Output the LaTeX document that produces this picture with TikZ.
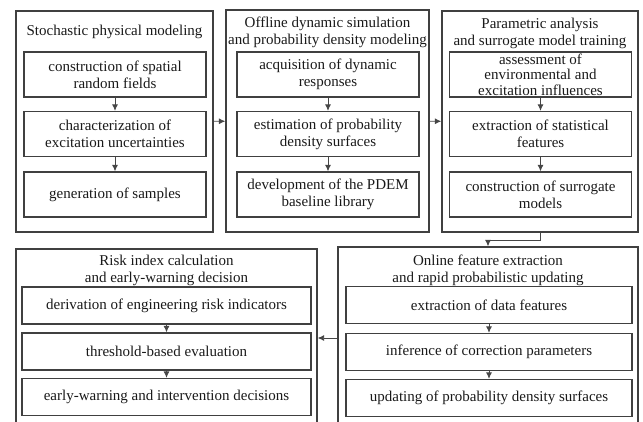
\documentclass[tikz,border=0pt]{standalone}
\usepackage{fontspec}
\setmainfont{Liberation Serif}
\usepackage{xcolor}
\usetikzlibrary{positioning,arrows.meta}
\definecolor{bline}{RGB}{64,64,64}
\definecolor{tblack}{RGB}{25,25,25}
\definecolor{cgray}{RGB}{70,70,70}
\tikzset{
  panel/.style={draw=bline, line width=1.3pt, inner sep=0pt},
  task/.style={draw=bline, line width=1.3pt, align=center, inner sep=0pt, text=tblack, font=\fontsize{15}{17}\selectfont},
  ttl/.style={align=center, inner sep=0pt, text=tblack, font=\fontsize{15}{17}\selectfont},
  flow/.style={-{Latex[length=6.5pt,width=6pt]}, cgray, line width=0.9pt},
  topbox/.style={task, minimum width=182pt, minimum height=45pt},
  lowbox/.style={task, minimum height=37pt}
}

\begin{document}
\begin{tikzpicture}[x=1pt,y=-1pt]
  \clip (0,0) rectangle (643,421);
  % panels
  \node[panel, minimum width=197pt, minimum height=221pt] (p1) at (114.5,121.5) {};
  \node[panel, minimum width=203pt, minimum height=222pt] (p2) at (327.5,121) {};
  \node[panel, minimum width=196pt, minimum height=221pt] (p3) at (540,121.5) {};
  \node[panel, minimum width=301pt, minimum height=178pt] (p4) at (166.5,338) {};
  \node[panel, minimum width=300pt, minimum height=182pt] (p5) at (488,338) {};

  % stochastic physical modeling
  \node[ttl] (t1) at (114.5,32) {Stochastic physical modeling};
  \node[topbox] (a1) at (115,74.5) {construction of spatial\\random fields};
  \node[topbox] (a2) at (115,134) {characterization of\\excitation uncertainties};
  \node[topbox] (a3) at (115,194.5) {generation of samples};

  % offline simulation
  \node[ttl] (t2) at (327.5,32.5) {Offline dynamic simulation\\and probability density modeling};
  \node[topbox] (b1) at (328,74.5) {acquisition of dynamic\\responses};
  \node[topbox] (b2) at (328,134) {estimation of probability\\density surfaces};
  \node[topbox] (b3) at (328,194.5) {development of the PDEM\\baseline library};

  % parametric analysis
  \node[ttl] (t3) at (540,33) {Parametric analysis\\and surrogate model training};
  \node[topbox, font=\fontsize{15}{15.5}\selectfont] (c1) at (540.5,74.5) {assessment of\\environmental and\\excitation influences};
  \node[topbox] (c2) at (540.5,134) {extraction of statistical\\features};
  \node[topbox] (c3) at (540.5,194.5) {construction of surrogate\\models};

  % risk index
  \node[ttl] (t4) at (166.5,270) {Risk index calculation\\and early-warning decision};
  \node[lowbox, minimum width=289pt] (d1) at (166.5,305.5) {derivation of engineering risk indicators};
  \node[lowbox, minimum width=289pt] (d2) at (166.5,351.5) {threshold-based evaluation};
  \node[lowbox, minimum width=289pt] (d3) at (166.5,397) {early-warning and intervention decisions};

  % online updating
  \node[ttl] (t5) at (488,270) {Online feature extraction\\and rapid probabilistic updating};
  \node[lowbox, minimum width=286pt] (e1) at (489,305) {extraction of data features};
  \node[lowbox, minimum width=286pt] (e2) at (489,352) {inference of correction parameters};
  \node[lowbox, minimum width=286pt] (e3) at (489,398) {updating of probability density surfaces};

  % connectors
  \foreach \u/\v in {a1/a2,a2/a3,b1/b2,b2/b3,c1/c2,c2/c3,d1/d2,d2/d3,e1/e2,e2/e3}
    \draw[flow] (\u) -- (\v);
  \draw[flow] (p1) -- (p2);
  \draw[flow] (p2) -- (p3);
  \draw[flow] (p3.south) -- ++(0,8) -| (p5.north);
  \draw[flow] (p5) -- (p4);
\end{tikzpicture}
\end{document}
